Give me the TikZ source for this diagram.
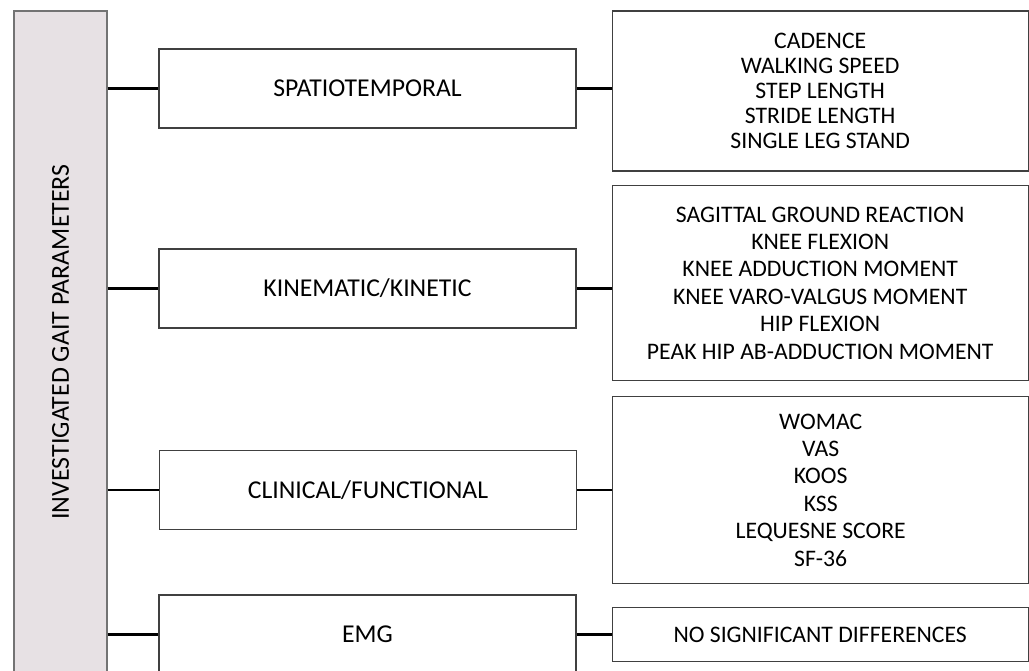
\documentclass[tikz,border=0pt]{standalone}
\usepackage{fontspec}
\setmainfont{Carlito}
\usetikzlibrary{positioning}
\definecolor{barfill}{RGB}{231,225,228}

\begin{document}
\begin{tikzpicture}[x=1pt,y=1pt,node distance=35pt]
	\tikzstyle{midbox}=[draw=black!75,line width=1.2pt,fill=white,minimum width=417pt,minimum height=79pt,inner sep=0pt,font=\fontsize{25.7}{30}\selectfont]
	\tikzstyle{listbox}=[draw=black!75,line width=1.2pt,fill=white,minimum width=416pt,inner sep=0pt,align=center,font=\fontsize{23.7}{27.4}\selectfont]
	\tikzstyle{link}=[line width=2.4pt,black]

	\useasboundingbox (0,0) rectangle (1029,671);
	\clip (0,0) rectangle (1029,671);

	\node[draw=black!55,line width=1.4pt,fill=barfill,rotate=90,minimum width=662pt,minimum height=93pt,
	      font=\fontsize{25.9}{30}\selectfont] (bar) at (60.5,329) {INVESTIGATED GAIT PARAMETERS};

	\node[midbox] (spatio) at (367.5,582.5) {SPATIOTEMPORAL};
	\node[midbox] (kinem)  at (367.5,382.5) {KINEMATIC/KINETIC};
	\node[midbox] (clinic) at (368,181)     {CLINICAL/FUNCTIONAL};
	\node[midbox] (emg)    at (367.5,36.5)  {EMG};

	\node[listbox,minimum height=160pt,right=of spatio,yshift=-2.5pt,font=\fontsize{23.7}{25}\selectfont] (spatiolist)
	     {CADENCE \\ WALKING SPEED \\ STEP LENGTH \\ STRIDE LENGTH \\ SINGLE LEG STAND};
	\node[listbox,minimum height=195pt,right=of kinem,yshift=5.5pt] (kinemlist)
	     {SAGITTAL GROUND REACTION \\ KNEE FLEXION \\ KNEE ADDUCTION MOMENT \\ KNEE VARO-VALGUS MOMENT \\ HIP FLEXION \\ PEAK HIP AB-ADDUCTION MOMENT};
	\node[listbox,minimum height=187pt,right=of clinic] (cliniclist)
	     {WOMAC \\ VAS \\ KOOS \\ KSS \\ LEQUESNE SCORE \\ SF-36};
	\node[listbox,minimum height=54pt,right=of emg] (emglist) {NO SIGNIFICANT DIFFERENCES};

	\draw[link] (bar.south |- spatio.west) -- (spatio.west)
	            (bar.south |- kinem.west)  -- (kinem.west)
	            (bar.south |- clinic.west) -- (clinic.west)
	            (bar.south |- emg.west)    -- (emg.west)
	            (spatio.east) -- (spatio.east -| spatiolist.west)
	            (kinem.east)  -- (kinem.east -| kinemlist.west)
	            (clinic.east) -- (cliniclist.west)
	            (emg.east)    -- (emglist.west);
	%\draw[link] (bar.south) -- ++(20,0);
\end{tikzpicture}
\end{document}
